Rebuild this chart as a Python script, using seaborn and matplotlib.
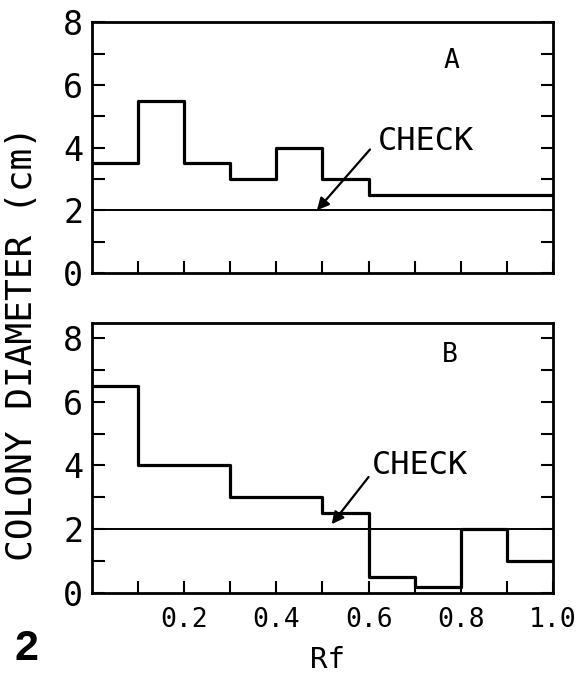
import numpy as np
import pandas as pd
import seaborn as sns
import matplotlib.pyplot as plt

# =========================
# Data
# =========================
rf_edges_a = [0.0, 0.1, 0.2, 0.3, 0.4, 0.5, 0.6, 1.0]
diam_a = [3.5, 5.5, 3.5, 3.0, 4.0, 3.0, 2.5]

rf_edges_b = [0.0, 0.1, 0.3, 0.5, 0.6, 0.7, 0.8, 0.9, 1.0]
diam_b = [6.5, 4.0, 3.0, 2.5, 0.5, 0.2, 2.0, 1.0]

check_value = 2.0

x_ticks = [0.1, 0.2, 0.3, 0.4, 0.5, 0.6, 0.7, 0.8, 0.9, 1.0]
x_labels = ["", "0.2", "", "0.4", "", "0.6", "", "0.8", "", "1.0"]
y_ticks = [0, 1, 2, 3, 4, 5, 6, 7, 8]
y_labels = ["0", "", "2", "", "4", "", "6", "", "8"]


def step_frame(edges, values):
    # steps-post needs the last value repeated at the right edge
    return pd.DataFrame({"Rf": edges, "diam": list(values) + [values[-1]]})


sns.set_theme(style="white")
plt.rcParams['font.family'] = ['DejaVu Sans Mono', 'DejaVu Sans']
plt.rcParams['text.color'] = 'black'
plt.rcParams['xtick.color'] = 'black'
plt.rcParams['ytick.color'] = 'black'

fig = plt.figure(figsize=(5.81, 6.74), dpi=100)
ax_a = fig.add_axes([0.158, 0.595, 0.794, 0.372])
ax_b = fig.add_axes([0.158, 0.120, 0.794, 0.401])

panels = [
    (ax_a, step_frame(rf_edges_a, diam_a), (0, 8), "A", (0.78, 6.75), (0.62, 4.2), (0.603, 3.94), (0.488, 2.0)),
    (ax_b, step_frame(rf_edges_b, diam_b), (0, 8.47), "B", (0.777, 7.45), (0.607, 4.0), (0.6, 3.64), (0.52, 2.16)),
]

for ax, df, ylim, tag, tag_xy, chk_xy, arr_from, arr_to in panels:
    sns.lineplot(data=df, x="Rf", y="diam", drawstyle="steps-post",
                 color="black", linewidth=2.3, ax=ax, sort=False)
    ax.axhline(check_value, color="black", linewidth=1.4)
    ax.set_xlim(0, 1.0)
    ax.set_ylim(*ylim)

    ax.text(tag_xy[0], tag_xy[1], tag, fontsize=19, ha="center", va="center")
    ax.text(chk_xy[0], chk_xy[1], "CHECK", fontsize=23, ha="left", va="center")
    ax.annotate("", xy=arr_to, xytext=arr_from,
                arrowprops=dict(arrowstyle="-|>", color="black", lw=1.6,
                                mutation_scale=18, shrinkA=0, shrinkB=0))

    ax.set_xticks(x_ticks)
    ax.set_yticks(y_ticks)
    ax.set_yticklabels(y_labels, fontsize=24)
    ax.tick_params(axis="both", direction="in", length=9, width=1.5,
                   right=True, top=False, left=True, bottom=True)
    ax.tick_params(axis="y", pad=6)
    for side in ax.spines.values():
        side.set_visible(True)
        side.set_color("black")
        side.set_linewidth(2.0)
    ax.set_xlabel("")
    ax.set_ylabel("")

ax_a.set_xticklabels([])
ax_b.set_xticklabels(x_labels, fontsize=19)
ax_b.tick_params(axis="x", pad=10)

fig.text(0.564, 0.021, "Rf", fontsize=21, ha="center", va="center")
fig.text(0.038, 0.49, "COLONY DIAMETER (cm)", fontsize=26, rotation=90,
         ha="center", va="center")
fig.text(0.045, 0.037, "2", fontsize=31, fontweight="bold", ha="center", va="center",
         family=["Liberation Sans", "DejaVu Sans"])

fig.savefig("out.png", dpi=100, facecolor="white")
